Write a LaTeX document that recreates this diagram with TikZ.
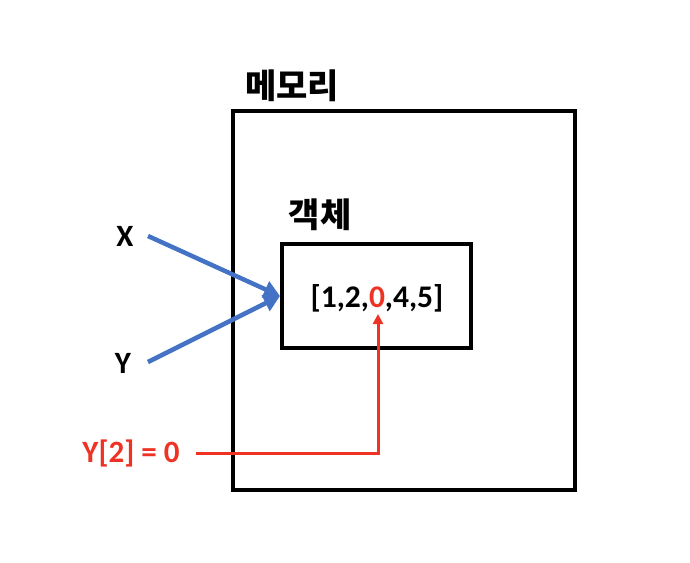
\documentclass[tikz,border=0pt]{standalone}
\usepackage{fontspec}
\setmainfont{Carlito}
\newfontfamily\kr{Noto Sans CJK KR}
\usetikzlibrary{arrows.meta}
\usetikzlibrary{positioning}
\definecolor{ptblue}{RGB}{68,114,196}
\definecolor{ptred}{RGB}{238,50,36}
\tikzset{>=Triangle}

\begin{document}
\begin{tikzpicture}[x=1pt,y=-1pt,
		box/.style={draw, line width=4pt, inner sep=0pt},
		lbl/.style={inner sep=0pt, font=\bfseries\fontsize{31}{34}\selectfont},
		krlbl/.style={inner sep=0pt, font=\kr\bfseries\fontsize{34}{38}\selectfont},
		ref/.style={->, ptblue, line width=4.5pt, >={Triangle[length=16pt,width=17pt]}},
		chg/.style={->, ptred, line width=3pt, >={Triangle[length=10pt,width=10pt]}}]
		\useasboundingbox (0,0) rectangle (690,562);
		\node[box, minimum width=342pt, minimum height=379pt] (mem) at (404,300.5) {};
		\node[box, minimum width=189pt, minimum height=104pt] (obj) at (376.5,296) {};
		\node[krlbl] (memname) at (292,86) {메모리};
		\node[krlbl] (objname) at (320,215) {객체};
		\node[lbl, font=\bfseries\fontsize{31.5}{34}\selectfont] (list) at (377,298) {[1,2,\textcolor{ptred}{0},4,5]};
		\node[lbl] (x) at (125,236) {X};
		\node[lbl] (y) at (123,363) {Y};
		\node[lbl, ptred] (y2) at (131,453) {Y[2] = 0};
		\coordinate (xs) at (148,236);
		\coordinate (ys) at (148,362);
		\coordinate (ye) at (196,453);
		\coordinate (zero) at (378,314);
		\path
			(xs) edge[ref] (obj.west)
			(ys) edge[ref] (obj.west);
		\draw[chg] (ye) -| (zero);
	\end{tikzpicture}
\end{document}
